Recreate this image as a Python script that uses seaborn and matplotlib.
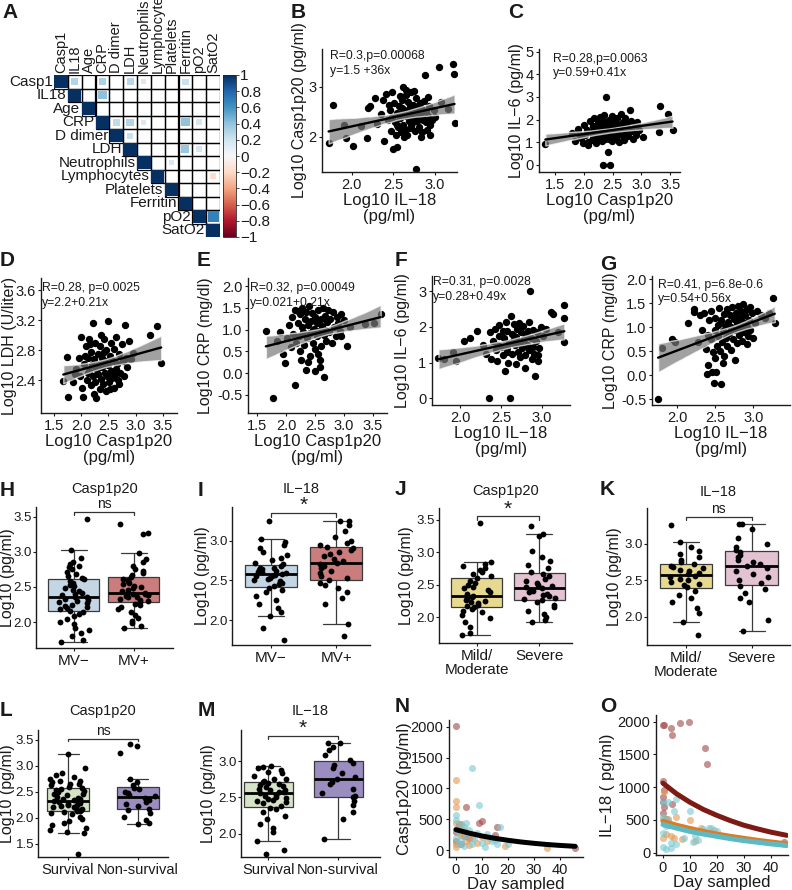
import numpy as np
import pandas as pd
import matplotlib
matplotlib.use("Agg")
import matplotlib.pyplot as plt
import matplotlib as mpl
from matplotlib.colors import ListedColormap, Normalize
from matplotlib.collections import PolyCollection
from matplotlib.patches import Rectangle
from matplotlib.ticker import FormatStrFormatter
import seaborn as sns

# ---------------- data ----------------
corr_vars = ["Casp1", "IL18", "Age", "CRP", "D dimer", "LDH", "Neutrophils",
             "Lymphocytes", "Platelets", "Ferritin", "pO2", "SatO2"]
corr_i = [0, 0, 0, 0, 0, 1, 3, 3, 3, 3, 3, 4, 5, 5, 6, 7, 10]
corr_j = [1, 3, 5, 6, 9, 3, 4, 5, 6, 9, 10, 5, 9, 10, 8, 11, 11]
corr_r = [0.30, 0.32, 0.28, 0.15, 0.22, 0.41, 0.25, 0.30, 0.15, 0.40, 0.18,
          0.22, 0.38, 0.18, 0.15, -0.18, 0.68]
cb_ticks = [1, 0.8, 0.6, 0.4, 0.2, 0, -0.2, -0.4, -0.6, -0.8, -1]
cb_labels = ["1", "0.8", "0.6", "0.4", "0.2", "0", "\u22120.2", "\u22120.4",
             "\u22120.6", "\u22120.8", "\u22121"]

b_il18 = [1.72,1.77,1.90,1.93,2.02,2.11,2.18,2.19,2.22,2.28,2.31,2.38,2.39,2.41,2.44,2.46,2.47,2.49,2.50,2.51,
          2.52,2.53,2.54,2.55,2.56,2.57,2.58,2.59,2.60,2.61,2.62,2.62,2.63,2.64,2.65,2.66,2.66,2.67,2.68,2.69,
          2.70,2.70,2.71,2.72,2.73,2.74,2.75,2.76,2.77,2.77,2.78,2.79,2.80,2.81,2.82,2.83,2.84,2.85,2.86,2.87,
          2.88,2.89,2.90,2.91,2.92,2.93,2.94,2.95,2.97,2.99,3.01,3.05,3.08,3.16,3.22,3.23,3.24,2.45,2.58,2.63,
          2.68,2.72,2.80,2.86,2.92,2.54,2.60,2.75,2.35,2.48,2.70,2.84,2.65]
b_casp = [1.88,2.64,2.24,1.99,1.82,2.22,1.99,2.59,2.62,2.78,2.27,2.74,1.93,2.86,2.35,2.55,2.12,2.40,1.76,2.68,
          2.30,2.05,1.81,2.48,2.20,2.62,2.38,2.10,2.75,2.45,3.01,2.25,2.55,2.15,2.85,2.95,2.42,2.05,2.70,2.33,
          2.60,2.18,2.50,2.90,2.28,2.65,2.40,2.12,1.37,2.55,2.78,2.32,2.48,2.20,2.68,2.38,2.58,2.10,2.45,2.72,
          3.25,2.30,2.52,2.15,2.42,2.62,2.25,2.05,2.35,2.55,2.40,3.40,2.71,2.57,3.47,3.27,2.29,2.65,2.82,2.00,
          2.45,2.22,2.62,2.35,2.80,2.25,2.58,2.92,2.45,2.90,2.38,2.00,2.52]

c_casp = [1.33,1.80,1.85,1.90,1.95,1.98,2.00,2.02,2.05,2.07,2.10,2.12,2.14,2.16,2.18,2.20,2.21,2.23,2.25,2.26,
          2.28,2.29,2.31,2.32,2.34,2.34,2.35,2.36,2.37,2.38,2.39,2.40,2.41,2.42,2.43,2.44,2.45,2.46,2.46,2.47,
          2.48,2.49,2.50,2.51,2.52,2.53,2.55,2.56,2.57,2.58,2.60,2.61,2.62,2.63,2.65,2.66,2.68,2.69,2.70,2.72,
          2.73,2.75,2.77,2.78,2.80,2.82,2.84,2.86,2.88,2.92,2.95,3.03,3.30,3.33,3.47,3.54,2.15,2.27,2.33,2.44,
          2.54,2.64,2.74,2.90,1.92,2.08]
c_il6 = [0.90,1.40,1.05,1.60,1.20,0.95,1.75,1.30,1.55,0.85,1.95,1.45,1.10,1.70,2.05,1.35,0.95,1.60,1.85,1.20,
         2.10,1.50,1.05,1.75,0.00,1.40,2.20,1.65,1.15,1.90,2.99,1.30,1.55,0.57,2.00,1.80,1.25,0.00,1.45,1.70,
         2.15,1.05,1.60,1.35,1.95,1.50,1.20,1.85,1.62,2.05,1.40,1.00,1.75,1.55,2.25,1.30,1.90,1.65,1.10,2.05,
         1.45,1.80,1.25,1.60,2.40,1.95,1.50,1.15,1.75,1.90,1.55,1.21,1.43,2.58,2.24,1.54,1.25,1.65,1.90,1.15,
         1.75,1.35,1.55,1.30,1.35,1.00]

d_casp = [1.67,1.76,1.73,1.84,1.90,1.95,1.98,2.00,2.02,2.04,2.05,2.08,2.10,2.12,2.14,2.15,2.17,2.18,2.20,2.21,
          2.22,2.23,2.25,2.26,2.27,2.28,2.30,2.31,2.32,2.34,2.35,2.36,2.38,2.39,2.40,2.41,2.43,2.44,2.45,2.46,
          2.48,2.49,2.50,2.51,2.53,2.54,2.55,2.57,2.58,2.60,2.61,2.63,2.64,2.66,2.68,2.70,2.72,2.74,2.76,2.78,
          2.80,2.82,2.85,2.88,2.92,2.96,3.27,3.40,3.47,2.12,2.24,2.33,2.42,2.52,2.62,2.70,2.16,2.36,1.88,2.06]
d_ldh = [2.39,2.18,2.71,2.38,2.55,2.70,2.45,2.98,2.30,2.18,2.62,2.85,2.40,2.70,2.95,2.52,2.33,2.78,2.60,2.45,
         3.16,2.68,2.90,2.38,2.16,2.55,2.75,2.48,2.62,2.28,2.85,2.42,2.70,2.58,2.35,2.95,2.50,2.65,2.25,2.80,
         2.45,3.19,2.60,2.38,2.72,2.52,2.90,2.43,2.66,2.30,2.82,2.55,2.98,2.62,2.40,2.75,2.50,2.88,2.65,2.45,
         3.13,2.70,2.58,2.92,2.68,2.76,3.00,3.12,2.63,2.50,2.22,2.58,2.78,2.28,2.48,2.35,2.88,3.00,2.48,2.72]

e_casp = [1.65,1.77,1.85,1.90,1.95,1.99,2.02,2.05,2.08,2.10,2.12,2.15,2.16,2.18,2.20,2.22,2.24,2.25,2.27,2.28,
          2.30,2.31,2.33,2.34,2.35,2.36,2.38,2.40,2.41,2.42,2.44,2.45,2.46,2.48,2.50,2.50,2.51,2.53,2.54,2.56,
          2.57,2.59,2.60,2.61,2.63,2.64,2.65,2.66,2.68,2.70,2.71,2.73,2.75,2.77,2.79,2.81,2.83,2.86,2.88,2.90,
          2.93,2.96,3.00,3.05,3.10,3.37,3.52,3.64,2.26,2.38,2.55,2.46,2.58,2.20,2.68,2.95]
e_crp = [0.98,-0.58,0.75,0.95,0.45,0.23,0.80,1.10,0.60,1.30,0.90,-0.27,1.45,0.70,1.15,0.85,1.35,0.50,1.05,1.50,
         0.95,0.65,1.25,0.08,1.40,0.80,1.10,1.55,0.92,0.40,1.20,1.38,0.70,1.02,0.04,1.30,0.55,1.15,0.85,1.45,
         0.98,0.13,1.25,0.62,1.08,1.50,-0.09,0.88,1.32,0.75,1.18,1.45,0.95,1.25,0.70,1.40,1.05,0.85,1.30,1.15,
         0.98,0.85,1.22,0.62,1.05,1.12,1.15,1.36,0.30,0.25,0.45,1.00,0.30,1.42,1.00,1.35]

f_il18 = [1.73,1.80,1.91,1.94,2.04,2.12,2.20,2.28,2.32,2.35,2.36,2.38,2.40,2.42,2.44,2.45,2.47,2.48,2.50,2.52,
          2.54,2.55,2.56,2.57,2.58,2.59,2.60,2.61,2.62,2.63,2.64,2.65,2.66,2.67,2.68,2.69,2.70,2.71,2.72,2.73,
          2.74,2.75,2.76,2.77,2.78,2.79,2.80,2.81,2.82,2.84,2.85,2.86,2.87,2.88,2.89,2.90,2.91,2.92,2.93,2.94,
          2.95,2.97,2.99,3.02,3.05,3.11,3.14,3.20,3.27,3.28,3.27,2.46,2.58,2.66,2.74,2.83,2.52,2.96]
f_il6 = [1.14,1.10,1.30,1.05,1.62,1.70,1.90,1.50,1.25,0.00,1.85,1.10,1.60,1.95,1.35,1.05,1.75,2.05,1.45,1.20,
         1.68,0.76,2.15,1.40,1.90,1.00,1.55,0.00,2.30,1.80,1.25,1.62,2.08,1.48,0.95,1.72,1.95,1.30,2.10,1.58,
         1.15,1.85,1.42,2.02,1.65,1.20,0.86,1.78,1.50,2.15,1.35,3.02,1.70,1.10,1.92,1.45,1.25,0.62,1.60,1.85,
         1.05,1.40,2.00,1.75,1.95,2.43,2.35,1.85,2.62,2.24,1.57,1.50,1.30,1.75,1.55,1.90,1.88,1.20]

g_il18 = [1.75,1.80,1.93,1.97,2.14,2.22,2.22,2.27,2.30,2.33,2.35,2.38,2.39,2.40,2.41,2.42,2.44,2.45,2.46,2.47,
          2.48,2.49,2.50,2.51,2.52,2.53,2.54,2.55,2.56,2.57,2.58,2.59,2.60,2.61,2.62,2.63,2.64,2.65,2.66,2.67,
          2.68,2.69,2.70,2.71,2.72,2.73,2.74,2.75,2.76,2.77,2.78,2.79,2.80,2.81,2.82,2.83,2.84,2.85,2.86,2.87,
          2.88,2.89,2.90,2.91,2.92,2.93,2.94,2.95,2.96,2.98,3.00,3.02,3.05,3.10,3.15,3.20,3.26,3.28,2.50,2.60,
          2.70,2.92]
g_crp = [-0.50,0.57,0.76,0.70,1.08,1.39,1.32,0.69,1.25,0.95,1.30,0.55,0.03,0.85,0.21,1.15,0.75,1.35,0.07,0.48,
         -0.16,0.95,1.20,0.07,0.62,1.05,0.82,1.40,0.50,-0.19,1.15,0.70,0.92,1.28,0.40,1.05,0.78,1.38,0.60,1.12,
         0.88,1.25,0.52,1.00,1.42,0.75,1.18,0.95,0.31,1.30,0.68,1.08,1.45,0.85,1.20,0.98,1.35,0.72,1.12,1.48,
         0.90,1.25,1.05,0.65,1.38,0.82,1.15,1.42,0.95,1.30,0.78,1.10,1.35,1.25,1.20,1.30,1.62,1.10,0.35,0.25,
         0.95,1.00]

h_mvneg = [1.72,1.75,1.80,1.84,1.88,1.92,1.97,2.00,2.04,2.08,2.11,2.14,2.16,2.18,2.20,2.22,2.23,2.25,2.27,2.28,
           2.30,2.31,2.33,2.35,2.36,2.38,2.40,2.42,2.44,2.46,2.48,2.51,2.53,2.56,2.58,2.61,2.63,2.66,2.69,2.72,
           2.75,2.78,2.80,2.83,2.86,2.92,3.02,3.47]
h_mvpos = [1.92,1.94,1.98,2.02,2.06,2.10,2.14,2.18,2.21,2.24,2.26,2.28,2.30,2.32,2.33,2.35,2.36,2.37,2.38,2.39,
           2.40,2.40,2.42,2.44,2.46,2.48,2.50,2.52,2.54,2.56,2.58,2.60,2.62,2.64,2.67,2.70,2.73,2.76,2.80,2.85,
           2.90,2.98,3.25,3.27,3.40]
i_mvneg = [1.75,1.90,2.05,2.10,2.15,2.20,2.25,2.30,2.35,2.38,2.41,2.43,2.45,2.47,2.49,2.50,2.52,2.53,2.55,2.56,
           2.57,2.58,2.59,2.60,2.61,2.62,2.63,2.64,2.65,2.66,2.68,2.70,2.72,2.75,2.78,2.82,2.86,2.90,2.94,2.98,
           3.02,3.25]
i_mvpos = [1.80,1.95,2.20,2.28,2.35,2.40,2.44,2.47,2.50,2.53,2.56,2.59,2.62,2.65,2.68,2.70,2.72,2.74,2.77,2.80,
           2.83,2.86,2.88,2.90,2.92,2.94,2.97,3.00,3.05,3.12,3.20,3.25,3.25]
j_mild = [1.73,1.76,1.85,1.92,1.98,2.03,2.07,2.10,2.13,2.15,2.17,2.19,2.21,2.23,2.25,2.27,2.29,2.31,2.33,2.35,
          2.38,2.41,2.44,2.47,2.50,2.53,2.56,2.60,2.63,2.66,2.70,2.73,2.76,2.79,2.82,2.85,3.45]
j_severe = [1.93,1.95,2.00,2.05,2.10,2.15,2.19,2.23,2.26,2.28,2.30,2.32,2.34,2.36,2.38,2.40,2.42,2.44,2.46,2.48,
            2.50,2.53,2.56,2.59,2.63,2.66,2.70,2.75,2.80,2.86,2.92,3.02,3.25,3.28,3.40]
k_mild = [1.75,1.92,2.05,2.12,2.20,2.25,2.30,2.35,2.40,2.43,2.45,2.47,2.50,2.52,2.54,2.56,2.58,2.60,2.62,2.64,
          2.66,2.68,2.70,2.72,2.75,2.78,2.82,2.86,2.90,2.95,3.02,3.25]
k_severe = [1.80,1.95,2.20,2.25,2.32,2.38,2.42,2.46,2.50,2.54,2.58,2.62,2.66,2.70,2.72,2.75,2.78,2.82,2.85,2.88,
            2.91,2.95,3.00,3.08,3.20,3.27,3.27]
l_surv = [1.30,1.70,1.72,1.76,1.80,1.85,1.90,1.94,1.98,2.02,2.06,2.10,2.13,2.15,2.17,2.19,2.21,2.23,2.25,2.27,
          2.29,2.31,2.33,2.35,2.37,2.40,2.43,2.46,2.49,2.52,2.55,2.58,2.60,2.62,2.65,2.68,2.71,2.74,2.78,2.82,
          2.87,2.95,3.22,2.20,2.24,2.32,2.36,2.45,2.53,2.64,2.70,2.12,2.08]
l_nonsurv = [1.88,1.90,1.95,2.02,2.08,2.14,2.17,2.22,2.26,2.30,2.34,2.38,2.41,2.44,2.47,2.50,2.55,2.58,2.62,2.68,
             2.75,3.25,3.38,3.42]
m_surv = [1.72,1.78,1.90,2.02,2.08,2.14,2.20,2.25,2.30,2.34,2.38,2.42,2.44,2.46,2.48,2.50,2.52,2.54,2.56,2.58,
          2.60,2.62,2.64,2.66,2.68,2.70,2.72,2.73,2.76,2.80,2.84,2.88,2.90,2.92,2.93,2.57,2.61,2.49,2.67,2.45,
          2.85,2.36,2.75]
m_nonsurv = [1.93,2.20,2.30,2.40,2.45,2.50,2.52,2.56,2.62,2.68,2.72,2.75,2.78,2.84,2.90,2.95,2.98,3.02,3.08,3.15,
             3.20,3.25,3.25]

# panel N (day sampled vs Casp1p20), three patient groups
n_red_day = [0, 4, 10, 9, 1, 16, 3, 5, 0, 2, 46, 0, 15]
n_red_val = [2010, 700, 470, 440, 420, 370, 230, 200, 150, 100, 30, 300, 250]
n_org_day = [0, 0, 0, 0, 1, 2, 4, 0, 3, 6, 8, 12, 19, 35, 1, 0, 5, 10, 2]
n_org_val = [1130, 790, 700, 440, 360, 250, 150, 100, 330, 200, 120, 150, 70, 40, 280, 50, 80, 210, 420]
n_cyn_day = [6, 9, 0, 0, 2, 3, 1, 4, 5, 7, 10, 11, 13, 15, 17, 16, 20, 2, 0, 1, 3, 4, 8, 12, 14, 0, 6]
n_cyn_val = [1330, 730, 560, 480, 420, 380, 300, 250, 330, 180, 120, 50, 200, 160, 370, 100, 90, 170, 200,
             90, 60, 440, 280, 260, 150, 340, 90]
n_curve_day = [0, 5, 10, 15, 20, 25, 30, 35, 40, 46]
n_curve_val = [330, 275, 228, 190, 158, 131, 109, 90, 75, 60]

# panel O (day sampled vs IL-18)
o_red_day = [0, 0.5, 3, 3.5, 6.5, 9.5, 15.5, 16.5, 0, 0.3, 0, 0, 0.5, 0, 1, 3.5, 45]
o_red_val = [1940, 1950, 1900, 1790, 1985, 2000, 1600, 1350, 1090, 950, 850, 780, 690, 600, 520, 740, 170]
o_org_day = [0.5, 0, 2, 5, 10, 4, 1, 3, 0, 19, 14, 7, 2, 12, 45]
o_org_val = [920, 510, 510, 540, 500, 220, 290, 260, 230, 340, 370, 210, 420, 180, 130]
o_cyn_day = [0, 2, 4, 5, 0, 1, 3, 10, 12, 15, 17, 18, 8, 0, 2, 5, 0, 1, 3, 11, 13, 20]
o_cyn_val = [770, 770, 640, 820, 80, 60, 70, 640, 250, 360, 370, 380, 230, 540, 500, 130, 300, 400, 150, 170,
             190, 330]
o_curve_day = [0, 5, 10, 15, 20, 25, 30, 35, 40, 46]
o_curve_red = [1060, 900, 770, 660, 570, 490, 420, 365, 315, 265]
o_curve_org = [480, 420, 370, 325, 285, 250, 220, 190, 165, 135]
o_curve_cyn = [430, 375, 325, 285, 250, 215, 185, 160, 135, 110]

# ---------------- style ----------------
sns.set_theme(style="white")
plt.rcParams["font.family"] = ["Liberation Sans", "DejaVu Sans"]
plt.rcParams["axes.unicode_minus"] = True
np.random.seed(7)

W, H = 792, 890
fig = plt.figure(figsize=(W / 100, H / 100), dpi=100)
INK = "#1a1a1a"


def add_ax(x0, y0, x1, y1):
    return fig.add_axes([x0 / W, 1 - y1 / H, (x1 - x0) / W, (y1 - y0) / H])


def style(ax, xlim, ylim, xticks, yticks, xfmt=None, yfmt=None, tsize=10.5, ysize=None):
    sns.despine(ax=ax)
    for s in ("left", "bottom"):
        ax.spines[s].set_color(INK)
        ax.spines[s].set_linewidth(1.0)
    ax.tick_params(axis="both", length=2.5, width=0.8, color=INK, labelsize=tsize,
                   pad=1.5, labelcolor=INK, left=True, bottom=True)
    if ysize is not None:
        ax.tick_params(axis="y", labelsize=ysize, pad=0.8, length=2)
    ax.set_xlim(*xlim)
    ax.set_ylim(*ylim)
    if xticks is not None:
        ax.set_xticks(xticks)
    ax.set_yticks(yticks)
    if xfmt:
        ax.xaxis.set_major_formatter(FormatStrFormatter(xfmt))
    if yfmt:
        ax.yaxis.set_major_formatter(FormatStrFormatter(yfmt))


def place_ylabel(ax, box, text, right_px, size=12):
    ax.set_ylabel(text, fontsize=size, color=INK)
    ax.yaxis.set_label_coords((right_px - box[0]) / (box[2] - box[0]), 0.5)


def scatter_panel(box, x, y, xlabel, ylabel, ylab_px, xlim, ylim, xticks, yticks, xfmt, yfmt, note, note_xy):
    ax = add_ax(*box)
    df = pd.DataFrame({"x": x, "y": y})
    sns.regplot(data=df, x="x", y="y", ax=ax, color="black", seed=0,
                scatter_kws=dict(s=28, linewidths=0, alpha=1), line_kws=dict(lw=1.7))
    for c in ax.collections:
        if isinstance(c, PolyCollection):
            c.set_facecolor("#7a7a7a")
            c.set_alpha(0.7)
    style(ax, xlim, ylim, xticks, yticks, xfmt, yfmt)
    ax.set_xlabel(xlabel, fontsize=12, labelpad=1, linespacing=1.05, color=INK)
    place_ylabel(ax, box, ylabel, ylab_px, 11.5)
    ax.text(note_xy[0], note_xy[1], note, transform=ax.transAxes, fontsize=8.8, va="top",
            ha="left", linespacing=1.3, color=INK)
    return ax


def box_panel(box, groups, names, colors, title, xlim, ylim, yticks, sig, width, title_pad, ylab_px, xsize):
    ax = add_ax(*box)
    df = pd.DataFrame({"g": np.repeat(names, [len(g) for g in groups]),
                       "v": np.concatenate(groups)})
    sns.boxplot(data=df, x="g", y="v", hue="g", order=names, hue_order=names,
                palette=dict(zip(names, colors)), width=width, showfliers=False,
                linewidth=0.9, linecolor="#3a3a3a", legend=False, ax=ax,
                medianprops=dict(color="black", linewidth=2.0))
    sns.stripplot(data=df, x="g", y="v", order=names, color="black", size=4.2,
                  jitter=0.26, ax=ax, zorder=4)
    style(ax, xlim, ylim, [0, 1], yticks, None, "%.1f", tsize=10.5, ysize=9.5)
    ax.set_xticklabels(names, fontsize=xsize, linespacing=1.0)
    ax.set_xlabel("")
    place_ylabel(ax, box, "Log10 (pg/ml)", ylab_px, 11.5)
    ax.set_title(title, fontsize=10.5, pad=title_pad, color=INK)
    top = df["v"].max() + 0.1
    ax.plot([0, 0, 1, 1], [top - 0.05, top, top, top - 0.05], color="#333333", lw=0.9)
    if sig == "ns":
        ax.text(0.5, top + 0.015, sig, ha="center", va="bottom", fontsize=10, color=INK)
    else:
        ax.text(0.5, top - 0.03, sig, ha="center", va="bottom", fontsize=15, color=INK)
    return ax


def time_panel(box, groups, curves, ylabel, ylab_px, xlim, ylim):
    ax = add_ax(*box)
    for d, v, col in groups:
        sns.scatterplot(x=d, y=v, color=col, alpha=0.6, s=26, linewidth=0, ax=ax)
    for cd, cv, col in curves:
        sns.lineplot(x=cd, y=cv, color=col, lw=3.6, ax=ax)
    style(ax, xlim, ylim, [0, 10, 20, 30, 40], [0, 500, 1000, 1500, 2000], "%d", "%d")
    ax.set_xlabel("Day sampled", fontsize=12, labelpad=0, color=INK)
    place_ylabel(ax, box, ylabel, ylab_px, 12)
    return ax


# ---------------- A: correlation matrix ----------------
A_BOX = (54, 75, 220, 237)
axA = add_ax(*A_BOX)
n = len(corr_vars)
grid = np.zeros((n, n))
mask = np.tril(np.ones((n, n), dtype=bool), k=-1)
sns.heatmap(grid, mask=mask, cmap=ListedColormap(["white"]), cbar=False, linewidths=0,
            xticklabels=False, yticklabels=False, ax=axA)
for r in range(n):
    for c in range(r, n):
        axA.add_patch(Rectangle((c, r), 1, 1, fill=False, edgecolor="black", lw=0.9, zorder=2))
diag = list(range(n))
rows = np.array(diag + corr_i)
cols = np.array(diag + corr_j)
vals = np.array([1.0] * n + corr_r)
axA.scatter(cols + 0.5, rows + 0.5, s=np.abs(vals) * 90, c=vals, cmap="RdBu", vmin=-1, vmax=1,
            marker="s", linewidths=0, zorder=3)
for k, name in enumerate(corr_vars):
    axA.text(k - 0.08, k + 0.5, name, ha="right", va="center", fontsize=11, color=INK)
    axA.text(k + 0.5, -0.15, name, rotation=90, ha="center", va="bottom", fontsize=10.5, color=INK)

cax = add_ax(223, 75, 236, 237)
cb = fig.colorbar(mpl.cm.ScalarMappable(norm=Normalize(-1, 1), cmap="RdBu"), cax=cax, ticks=cb_ticks)
cb.ax.set_yticklabels(cb_labels, fontsize=11, color=INK)
cb.outline.set_linewidth(0.6)
cb.ax.tick_params(length=2, width=0.6, pad=1)

# ---------------- B-G: scatter panels ----------------
scatter_panel((322, 49, 457, 172), b_il18, b_casp, "Log10 IL\u221218\n(pg/ml)", "Log10 Casp1p20 (pg/ml)", 307,
              (1.64, 3.27), (1.3, 3.76), [2.0, 2.5, 3.0], [2, 3], "%.1f", "%d",
              "R=0.3,p=0.00068\ny=1.5 +36x", (0.06, 0.99))
scatter_panel((539, 49, 680, 172), c_casp, c_il6, "Log10 Casp1p20\n(pg/ml)", "Log10 IL\u22126 (pg/ml)", 524,
              (1.22, 3.67), (-0.33, 5.13), [1.5, 2.0, 2.5, 3.0, 3.5], [0, 1, 2, 3, 4, 5], "%.1f", "%d",
              "R=0.28,p=0.0063\ny=0.59+0.41x", (0.1, 0.97))
scatter_panel((41, 278, 177, 413), d_casp, d_ldh, "Log10 Casp1p20\n(pg/ml)", "Log10 LDH (U/liter)", 17,
              (1.26, 3.76), (1.96, 3.76), [1.5, 2.0, 2.5, 3.0, 3.5], [2.4, 2.8, 3.2, 3.6], "%.1f", "%.1f",
              "R=0.28, p=0.0025\ny=2.2+0.21x", (0.01, 0.97))
scatter_panel((248, 278, 387, 413), e_casp, e_crp, "Log10 Casp1p20\n(pg/ml)", "Log10 CRP (mg/dl)", 213,
              (1.34, 3.75), (-0.92, 2.19), [1.5, 2.0, 2.5, 3.0, 3.5], [-0.5, 0.0, 0.5, 1.0, 1.5, 2.0],
              "%.1f", "%.1f", "R=0.32, p=0.00049\ny=0.021+0.21x", (0.015, 0.97))
scatter_panel((432, 276, 570, 405), f_il18, f_il6, "Log10 IL\u221218\n(pg/ml)", "Log10 IL\u22126 (pg/ml)", 410,
              (1.65, 3.35), (-0.19, 3.43), [2.0, 2.5, 3.0], [0, 1, 2, 3], "%.1f", "%d",
              "R=0.31, p=0.0028\ny=0.28+0.49x", (0.01, 1.0))
scatter_panel((652, 276, 790, 405), g_il18, g_crp, "Log10 IL\u221218\n(pg/ml)", "Log10 CRP (mg/dl)", 618,
              (1.67, 3.48), (-0.62, 2.07), [2.0, 2.5, 3.0], [-0.5, 0.0, 0.5, 1.0, 1.5, 2.0], "%.1f", "%.1f",
              "R=0.41, p=6.8e-0.6\ny=0.54+0.56x", (0.04, 0.98))

# ---------------- H-M: box panels ----------------
c_mvneg, c_mvpos = "#bed7ea", "#d7706f"
c_mild, c_sev = "#f6e383", "#e8bdd0"
c_surv, c_non = "#d8e7c3", "#9984c9"
box_panel((36, 507, 173, 648), [h_mvneg, h_mvpos], ["MV\u2212", "MV+"], [c_mvneg, c_mvpos], "Casp1p20",
          (-0.63, 1.65), (1.63, 3.64), [2.0, 2.5, 3.0, 3.5], "ns", 0.85, 10, 15, 11)
box_panel((232, 507, 370, 645), [i_mvneg, i_mvpos], ["MV\u2212", "MV+"], [c_mvneg, c_mvpos], "IL\u221218",
          (-0.6, 1.52), (1.69, 3.42), [2.0, 2.5, 3.0], "*", 0.8, 10, 210, 11)
box_panel((439, 508, 572, 643), [j_mild, j_severe], ["Mild/\nModerate", "Severe"], [c_mild, c_sev], "Casp1p20",
          (-0.61, 1.53), (1.6, 3.68), [2.0, 2.5, 3.0, 3.5], "*", 0.82, 9, 414, 11)
box_panel((647, 508, 790, 645), [k_mild, k_severe], ["Mild/\nModerate", "Severe"], [c_mild, c_sev], "IL\u221218",
          (-0.59, 1.58), (1.61, 3.49), [2.0, 2.5, 3.0], "ns", 0.8, 9, 622, 11)
box_panel((38, 730, 168, 857), [l_surv, l_nonsurv], ["Survival", "Non-survival"], [c_surv, c_non], "Casp1p20",
          (-0.43, 1.43), (1.24, 3.69), [1.5, 2.0, 2.5, 3.0, 3.5], "ns", 0.6, 11, 15, 10.5)
box_panel((241, 730, 380, 857), [m_surv, m_nonsurv], ["Survival", "Non-survival"], [c_surv, c_non], "IL\u221218",
          (-0.39, 1.6), (1.68, 3.43), [2.0, 2.5, 3.0], "*", 0.7, 11, 216, 10.5)

# ---------------- N, O: time course ----------------
p_red, p_org, p_cyn = "#9e4848", "#e4974f", "#78c9d2"
time_panel((449, 720, 583, 857),
           [(n_red_day, n_red_val, p_red), (n_org_day, n_org_val, p_org), (n_cyn_day, n_cyn_val, p_cyn)],
           [(n_curve_day, n_curve_val, "black")], "Casp1p20 (pg/ml)", 412, (-2.7, 49), (-113, 2108))
time_panel((656, 715, 788, 855),
           [(o_red_day, o_red_val, p_red), (o_org_day, o_org_val, p_org), (o_cyn_day, o_cyn_val, p_cyn)],
           [(o_curve_day, o_curve_red, "#7d1a14"), (o_curve_day, o_curve_org, "#e07a22"),
            (o_curve_day, o_curve_cyn, "#5bbac3")], "IL\u221218 ( pg/ml)", 615, (-2.6, 46.5), (-35, 2100))

# ---------------- panel letters ----------------
letters = [("A", 2, 3), ("B", 291, 3), ("C", 508, 3), ("D", 0, 251), ("E", 197, 251), ("F", 395, 251),
           ("G", 600, 255), ("H", 0, 481), ("I", 198, 481), ("J", 395, 480), ("K", 600, 480),
           ("L", 0, 701), ("M", 198, 701), ("N", 395, 697), ("O", 600, 697)]
for t, x, y in letters:
    fig.text(x / W, 1 - y / H, t, fontsize=15, fontweight="bold", va="top", ha="left", color=INK)

fig.savefig("out.png", dpi=100)
